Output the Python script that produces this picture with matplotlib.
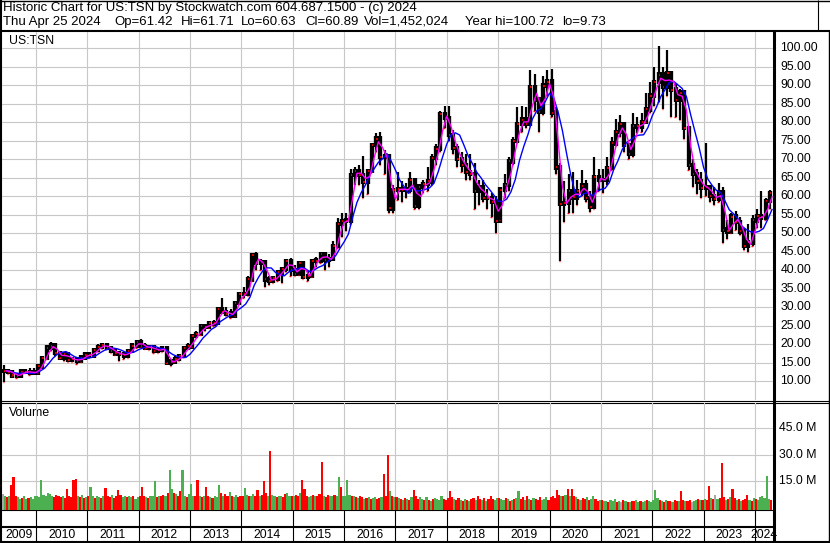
import matplotlib
matplotlib.use('Agg')
import matplotlib.pyplot as plt
import numpy as np
import pandas as pd

plt.rcParams['font.family'] = ['Liberation Sans', 'DejaVu Sans']

W, H = 830, 543

# monthly bars for US:TSN, May 2009 .. Apr 2024
first_year, first_month = 2009, 5
high = [
    14.5, 13.3, 12.7, 12.2, 13.2, 13.3, 13.6, 13.6,                          # 2009
    14.5, 16.5, 19.3, 20.5, 19.8, 18.3, 18.0, 17.5, 16.5, 16.5, 16.8, 17.8,  # 2010
    18.0, 18.8, 20.0, 20.3, 20.2, 19.6, 19.0, 17.8, 17.8, 18.5, 20.0, 21.2,  # 2011
    21.3, 20.3, 19.8, 19.8, 19.0, 19.0, 19.2, 16.0, 16.8, 17.0, 19.2, 20.2,  # 2012
    22.5, 23.5, 25.0, 25.0, 26.0, 26.5, 29.8, 32.5, 30.0, 29.5, 31.5, 34.0,  # 2013
    35.5, 38.5, 44.0, 44.8, 43.0, 42.6, 38.5, 38.5, 40.0, 41.0, 43.0, 43.2,  # 2014
    41.5, 42.5, 42.0, 40.0, 43.0, 43.5, 45.0, 45.0, 44.5, 48.0, 54.0, 55.5,  # 2015
    55.5, 67.5, 68.0, 68.5, 71.0, 67.5, 74.5, 77.0, 77.3, 72.5, 71.0, 63.0,  # 2016
    66.5, 64.0, 63.5, 66.5, 64.5, 63.0, 64.5, 68.0, 71.5, 74.0, 83.0, 84.5,  # 2017
    84.5, 78.0, 74.0, 72.0, 71.5, 71.5, 69.0, 64.5, 64.5, 62.0, 61.0, 60.0,  # 2018
    62.5, 66.0, 70.5, 76.0, 84.0, 84.5, 84.0, 94.0, 93.0, 86.0, 92.5, 94.0,  # 2019
    94.5, 84.0, 69.0, 64.0, 66.0, 66.5, 64.5, 67.0, 64.5, 61.5, 70.5, 67.5,  # 2020
    67.5, 70.5, 76.0, 81.0, 82.0, 80.0, 74.5, 82.5, 81.5, 82.5, 88.0, 91.0,  # 2021
    95.0, 100.7, 95.0, 99.5, 92.0, 90.5, 89.0, 88.0, 79.0, 70.0, 67.5, 66.5, # 2022
    74.3, 63.0, 62.5, 63.5, 62.5, 53.6, 55.5, 56.0, 54.5, 51.5, 52.5, 55.0,  # 2023
    56.5, 61.5, 59.5, 61.7,                                                  # 2024
]
low = [
    9.73, 12.0, 11.3, 10.9, 11.8, 12.1, 11.8, 12.1,
    12.2, 13.8, 16.0, 18.3, 16.8, 16.2, 15.5, 15.3, 15.2, 14.6, 15.2, 16.3,
    16.3, 16.8, 17.8, 18.7, 18.6, 17.6, 17.0, 15.4, 16.0, 16.3, 17.8, 19.0,
    19.2, 18.8, 18.5, 17.6, 17.5, 18.0, 14.8, 14.0, 15.2, 15.5, 16.5, 18.6,
    19.3, 21.8, 22.5, 23.5, 24.3, 24.8, 25.6, 28.5, 27.5, 27.0, 27.5, 30.8,
    32.5, 33.0, 37.0, 40.0, 40.0, 35.5, 36.0, 36.5, 37.0, 36.5, 39.5, 38.5,
    38.5, 38.8, 37.5, 37.0, 38.3, 41.0, 42.0, 40.0, 41.0, 43.5, 46.0, 49.0,
    50.5, 52.5, 63.0, 63.0, 59.5, 60.5, 66.5, 72.0, 68.5, 66.0, 55.5, 55.5,
    59.0, 58.5, 59.5, 61.0, 56.5, 56.5, 61.0, 61.5, 63.0, 68.5, 72.0, 78.5,
    75.0, 71.5, 68.0, 66.5, 64.5, 64.5, 56.5, 57.5, 58.5, 56.5, 54.5, 50.0,
    53.5, 59.5, 61.5, 68.5, 74.5, 77.5, 78.5, 79.0, 83.0, 77.5, 82.0, 87.0,
    81.5, 66.0, 42.6, 53.0, 55.5, 55.4, 57.5, 60.0, 58.5, 55.8, 56.5, 61.5,
    61.0, 63.0, 67.0, 73.5, 76.0, 72.0, 70.0, 70.5, 77.0, 77.5, 80.0, 82.5,
    84.5, 85.5, 83.5, 87.0, 81.5, 81.5, 80.5, 75.5, 67.0, 62.5, 60.5, 59.5,
    60.0, 58.5, 57.5, 58.5, 47.3, 48.5, 50.0, 51.0, 49.5, 45.5, 44.8, 46.5,
    51.5, 51.5, 53.5, 56.5,
]
close = [
    12.8, 12.5, 11.6, 11.5, 12.6, 12.5, 12.4, 12.3,
    14.0, 16.3, 19.1, 19.6, 17.6, 16.4, 17.4, 15.8, 16.0, 15.5, 16.4, 17.2,
    17.0, 18.5, 19.3, 19.8, 19.0, 18.2, 17.5, 17.3, 17.0, 18.2, 19.6, 20.6,
    19.5, 19.0, 19.2, 18.3, 18.5, 18.8, 15.0, 15.3, 16.0, 16.8, 19.0, 19.4,
    22.2, 22.8, 24.8, 24.7, 25.6, 25.7, 29.4, 28.7, 28.3, 27.8, 31.2, 33.5,
    33.5, 37.5, 44.0, 42.0, 42.3, 37.5, 37.2, 37.8, 39.4, 40.4, 42.5, 40.1,
    39.0, 42.0, 38.3, 38.5, 42.5, 42.6, 44.4, 42.8, 43.1, 46.5, 52.5, 53.3,
    53.4, 65.7, 66.7, 65.8, 63.8, 66.8, 73.8, 75.6, 70.6, 70.9, 56.7, 61.7,
    62.0, 61.8, 61.7, 64.3, 57.3, 62.6, 63.3, 64.0, 70.4, 72.9, 82.2, 81.1,
    76.5, 73.0, 70.0, 68.5, 66.5, 66.0, 61.5, 62.5, 59.5, 59.5, 58.5, 53.4,
    61.8, 63.0, 69.4, 75.0, 79.5, 80.7, 79.5, 89.5, 86.1, 82.8, 89.9, 91.0,
    82.6, 67.8, 57.9, 58.2, 61.3, 59.7, 61.4, 62.9, 59.5, 57.2, 65.2, 64.4,
    64.4, 67.6, 74.3, 77.4, 79.5, 73.8, 71.5, 78.9, 78.9, 80.0, 83.5, 87.2,
    90.9, 92.9, 89.6, 93.2, 88.8, 86.1, 88.0, 78.5, 68.5, 66.0, 64.0, 62.2,
    62.5, 60.0, 59.3, 61.0, 51.0, 50.5, 54.5, 53.0, 50.5, 46.5, 47.5, 53.5,
    54.7, 54.3, 58.7, 60.9,
]

# half-monthly volume in millions, from first half of May 2009
vol = [
    7.5, 6.5, 5.5, 6.0, 12.5, 17.0, 6.5, 5.5, 4.8, 5.2, 6.0, 4.5, 5.0, 5.5, 4.6, 6.5,
    6.0, 5.5, 15.5, 7.0, 6.5, 8.0, 7.5, 6.5, 5.5, 7.0, 6.0, 5.5, 6.5, 5.0, 10.0, 6.5, 5.5, 15.4, 15.8, 6.0, 5.5, 7.0, 5.0, 5.5,
    6.0, 11.5, 6.5, 5.0, 6.0, 5.5, 5.0, 6.0, 11.0, 6.5, 5.5, 7.0, 5.0, 6.0, 9.7, 7.0, 5.5, 6.0, 5.5, 6.5, 5.5, 6.0, 4.5, 5.5,
    6.5, 11.6, 6.0, 5.5, 5.0, 6.0, 6.5, 15.0, 5.5, 6.0, 6.5, 7.0, 6.0, 8.0, 21.0, 10.5, 8.0, 7.5, 6.0, 9.0, 21.0, 6.5, 5.5, 7.5,
    13.0, 6.5, 6.0, 15.4, 6.5, 5.5, 6.0, 11.6, 6.5, 5.5, 5.0, 6.0, 5.5, 12.6, 8.0, 6.5, 7.5, 6.5, 8.5, 6.0, 5.5, 7.0, 5.5, 6.0,
    6.5, 11.0, 7.0, 6.0, 6.5, 7.5, 6.0, 9.5, 6.0, 7.0, 14.8, 8.0, 6.5, 32.0, 7.0, 6.5, 5.5, 6.0, 6.5, 5.5, 7.5, 8.0, 6.5, 6.0,
    6.0, 7.0, 6.5, 8.0, 15.4, 10.0, 6.0, 5.5, 6.5, 7.0, 6.0, 6.5, 7.5, 26.0, 6.0, 5.5, 7.0, 6.5, 6.0, 7.0, 6.5, 17.0, 11.6, 6.0,
    6.5, 15.4, 7.0, 6.5, 6.0, 5.5, 5.0, 6.5, 5.5, 4.5, 5.0, 5.5, 4.5, 5.0, 5.5, 4.5, 5.0, 5.5, 19.0, 6.0, 29.7, 9.0, 6.5, 5.5,
    5.5, 5.0, 4.5, 4.0, 5.0, 4.5, 4.0, 5.5, 9.5, 6.0, 4.5, 5.8, 4.5, 4.0, 5.5, 4.0, 3.5, 4.5, 5.0, 4.5, 4.0, 6.0, 4.5, 4.0,
    5.0, 9.0, 5.5, 4.5, 4.0, 5.0, 4.0, 3.5, 4.5, 4.0, 3.5, 4.5, 5.0, 4.0, 6.5, 4.5, 4.0, 5.0, 3.5, 4.5, 6.5, 4.5, 4.0, 5.0,
    5.0, 4.5, 4.0, 5.0, 4.5, 3.5, 4.0, 4.5, 5.0, 9.2, 4.5, 5.5, 4.0, 6.0, 4.5, 4.0, 5.0, 4.5, 4.0, 5.5, 4.0, 4.5, 5.5, 4.0,
    5.5, 6.0, 5.0, 9.7, 7.0, 6.5, 6.0, 7.0, 10.4, 6.5, 10.0, 6.0, 5.5, 4.5, 4.0, 5.0, 4.5, 5.5, 4.0, 4.5, 6.0, 4.5, 3.5, 4.0,
    4.0, 3.5, 3.5, 3.0, 4.0, 3.5, 4.5, 3.0, 3.5, 3.0, 4.0, 3.5, 3.0, 3.0, 3.5, 3.5, 4.0, 3.0, 3.5, 3.0, 3.5, 4.0, 3.5, 3.0,
    4.0, 9.7, 5.0, 4.0, 3.5, 3.0, 4.0, 3.5, 3.5, 3.0, 4.0, 3.5, 3.5, 9.3, 4.0, 3.5, 3.5, 4.0, 3.0, 3.5, 4.0, 4.5, 4.0, 4.0,
    4.5, 4.0, 12.1, 5.0, 4.5, 7.0, 4.5, 5.0, 25.3, 5.5, 4.0, 4.5, 5.5, 10.0, 5.0, 4.0, 4.5, 3.5, 4.0, 4.5, 7.0, 4.0, 3.5, 5.0,
    4.5, 4.0, 5.5, 6.0, 5.0, 17.7, 4.5, 4.0,
]
# r = down, g = up, n = unchanged
vol_dir = (
    "ngrgrrrggrggrggg"
    "ggggggggrrrrgrrrrrrgrgrg"
    "rggrggrgrrrgrrrrggrggrgg"
    "rrrgrgggrgrrgrggrgrrggrg"
    "ggrrgrgrrgrgggrgrrgrggrr"
    "rggrggrrgrrrgrggrggrrggr"
    "grrgrrrggrgrrrgrrggrggrg"
    "gggrgrgrrgrgrggrrgrrrgrg"
    "rgrgrgrgrrrggrgrgrggggrr"
    "rrrgrrgrgrgrrgrrgrgrrrgg"
    "rggrgrgrggrrgrgrgrrrgggr"
    "rrrrrgrgrgrrgrgrrgrggrrg"
    "rggrgggrgnrgrgrrggrggrgg"
    "gggrgrgrrgrrgrrgrrnggrgr"
    "grrgrngrrrgrgrrgrgrrrgrg"
    "rggggggr"
)

header1 = "Historic Chart for US:TSN by Stockwatch.com 604.687.1500 - (c) 2024"
header2 = [("Thu Apr 25 2024", 3), ("Op=61.42", 114), ("Hi=61.71", 181), ("Lo=60.63", 241),
           ("Cl=60.89", 305), ("Vol=1,452,024", 364), ("Year hi=100.72", 465), ("lo=9.73", 562)]
years = list(range(2009, 2025))
price_ticks = list(range(10, 101, 5))
vol_ticks = [15, 30, 45]

GRID = '#c8c8c8'
FS = 8.8
FS_HEAD = 9.5


# pixel helpers: x = 36 px at 2010.0, one year = 51.35 px
def px_to_year(x):
    return 2010 + (x - 36) / 51.35


def year_to_px(t):
    return 36 + (t - 2010) * 51.35


def rect(x0, y0, x1, y1):
    return [x0 / W, 1 - y1 / H, (x1 - x0) / W, (y1 - y0) / H]


n = len(close)
month_idx = np.arange(n) + (first_month - 1)
t_mid = first_year + (month_idx + 0.5) / 12
t_end = first_year + (month_idx + 1) / 12
cs = pd.Series(close)
ma_short = cs.rolling(2, min_periods=1).mean()
ma_long = cs.rolling(5, min_periods=1).mean()
prev_close = cs.shift(1).fillna(cs.iloc[0])
body_lo = np.minimum(prev_close, cs)
body_hi = np.maximum(prev_close, cs)

t_vol = first_year + (np.arange(len(vol)) + 2 * (first_month - 1) + 0.5) / 24
colmap = {'r': '#ff0000', 'g': '#4caf50', 'n': '#a8a8a8'}
vol_colors = [colmap[c] for c in vol_dir]

fig = plt.figure(figsize=(W / 100, H / 100), dpi=100)

bg = fig.add_axes([0, 0, 1, 1])
bg.set_xlim(0, W)
bg.set_ylim(H, 0)
bg.axis('off')

t0, t1 = px_to_year(2), px_to_year(773)

# price pane
ax = fig.add_axes(rect(2, 32, 773, 400))
ax.set_facecolor('none')
ax.set_xlim(t0, t1)
ax.set_ylim(4.92, 104.4)
for p in price_ticks:
    ax.axhline(p, color=GRID, lw=0.8, zorder=0)
for y in years[1:]:
    ax.axvline(y, color=GRID, lw=0.8, zorder=0)
ax.vlines(t_mid, low, high, colors='black', lw=1.6, zorder=2)
ax.vlines(t_mid, body_lo - 0.6, body_hi + 0.6, colors='black', lw=3.1, zorder=2)
ax.hlines(close, t_mid, t_mid + 0.35 / 12, colors='#ff0000', lw=1.2, zorder=3)
ax.hlines(low, t_mid - 0.3 / 12, t_mid, colors='#ff0000', lw=1.0, zorder=3)
ax.plot(t_end, ma_long, color='#0000ff', lw=1.0, zorder=4)
ax.plot(t_end, ma_short, color='#ff00ff', lw=1.0, zorder=5)
ax.set_xticks([])
ax.set_yticks([])
for s in ax.spines.values():
    s.set_visible(False)
for p in price_ticks:
    ax.text((780.5 - 2) / 771, p, f"{p:.2f}", transform=ax.get_yaxis_transform(),
            ha='left', va='center', fontsize=FS, clip_on=False)

# volume pane
vlo, vhi = -1.49, 59.8
ax2 = fig.add_axes(rect(2, 402.5, 773, 509.5))
ax2.set_facecolor('none')
ax2.set_xlim(t0, t1)
ax2.set_ylim(vlo, vhi)
for v in vol_ticks:
    ax2.axhline(v, color=GRID, lw=0.8, zorder=0)
for y in years[1:]:
    ax2.axvline(y, color=GRID, lw=0.8, zorder=0)
ax2.bar(t_vol, np.array(vol) - vlo, bottom=vlo, width=1.0 / 24, color=vol_colors,
        linewidth=0, zorder=2)
ax2.set_xticks([])
ax2.set_yticks([])
for s in ax2.spines.values():
    s.set_visible(False)
for v in vol_ticks:
    ax2.text((779 - 2) / 771, v, f"{v:.1f} M", transform=ax2.get_yaxis_transform(),
             ha='left', va='center', fontsize=FS, clip_on=False)

# frame lines (pixel coordinates)
k = dict(color='black', solid_capstyle='butt')
bg.plot([0, W], [0.5, 0.5], lw=1.0, **k)
bg.plot([1, 1], [0, H], lw=1.5, **k)
bg.plot([817.5, 817.5], [0, 31], lw=0.8, **k)
bg.plot([0, W], [31, 31], lw=1.5, **k)
bg.plot([0, W], [400.5, 400.5], lw=0.8, **k)
bg.plot([0, W], [403, 403], lw=0.8, **k)
bg.plot([0, 774], [510, 510], lw=0.8, **k)
bg.plot([0, 774], [527, 527], lw=1.5, **k)
bg.plot([0, W], [542, 542], lw=1.5, **k)
bg.plot([774, 774], [31, H], lw=2.2, **k)
bg.plot([829, 829], [31, H], lw=1.0, **k)

edges = [2] + [year_to_px(y) for y in years[1:]] + [773]
for x in edges[1:-1]:
    bg.plot([x, x], [510, 542], lw=0.8, **k)
for y, a, b in zip(years, edges[:-1], edges[1:]):
    bg.text((a + b) / 2, 535, str(y), ha='center', va='center', fontsize=FS)

# texts
bg.text(3, 8, header1, ha='left', va='center', fontsize=FS_HEAD)
for s, x in header2:
    bg.text(x, 22, s, ha='left', va='center', fontsize=FS_HEAD)
bg.text(9, 41, "US:TSN", ha='left', va='center', fontsize=FS)
bg.text(9, 413, "Volume", ha='left', va='center', fontsize=FS)

fig.savefig('out.png', dpi=100)
